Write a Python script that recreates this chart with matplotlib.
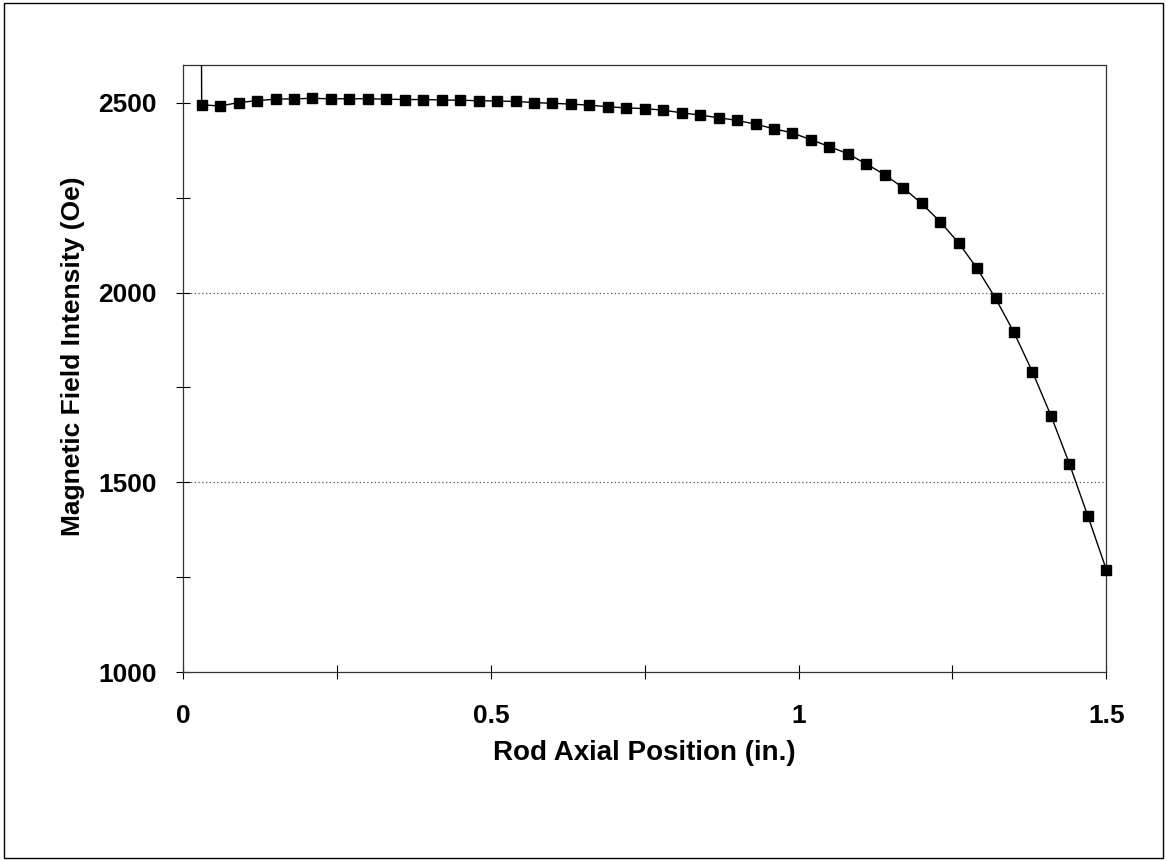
import matplotlib.pyplot as plt
from matplotlib.patches import Rectangle

plt.rcParams['font.family'] = ['Liberation Sans', 'DejaVu Sans']
plt.rcParams['font.weight'] = 'bold'

# rod axial position (in.) and field intensity (Oe); first point is off scale
pos = [0.0, 0.03, 0.06, 0.09, 0.12, 0.15, 0.18, 0.21, 0.24, 0.27, 0.30,
       0.33, 0.36, 0.39, 0.42, 0.45, 0.48, 0.51, 0.54, 0.57, 0.60,
       0.63, 0.66, 0.69, 0.72, 0.75, 0.78, 0.81, 0.84, 0.87, 0.90,
       0.93, 0.96, 0.99, 1.02, 1.05, 1.08, 1.11, 1.14, 1.17, 1.20,
       1.23, 1.26, 1.29, 1.32, 1.35, 1.38, 1.41, 1.44, 1.47, 1.50]
field = [15000, 2495, 2492, 2501, 2506, 2510, 2511, 2512, 2511, 2511, 2511,
         2510, 2509, 2509, 2508, 2507, 2506, 2505, 2504, 2501, 2499,
         2497, 2494, 2490, 2487, 2485, 2481, 2474, 2468, 2461, 2454,
         2444, 2432, 2421, 2403, 2385, 2366, 2339, 2311, 2276, 2235,
         2187, 2131, 2064, 1985, 1895, 1791, 1676, 1549, 1411, 1270]
grid_levels = [1500, 2000]

fig = plt.figure(figsize=(11.67, 8.61), dpi=100)
ax = fig.add_axes([0.157, 0.2195, 0.791, 0.705])

for g in grid_levels:
    ax.axhline(g, color='#555555', lw=0.9, ls=(0, (1, 2)), zorder=1)

ax.plot(pos, field, '-', color='black', lw=1.0, zorder=3)
# markers for the on-scale points, not clipped at the right edge
ax.plot(pos[1:], field[1:], 's', ms=7.5, mfc='black', mec='black',
        zorder=4, clip_on=False)

ax.set_xlim(0, 1.5)
ax.set_ylim(1000, 2600)
ax.set_xticks([0, 0.5, 1, 1.5])
ax.set_xticklabels(['0', '0.5', '1', '1.5'])
ax.set_xticks([0.25, 0.75, 1.25], minor=True)
ax.set_yticks([1000, 1500, 2000, 2500])
ax.set_yticks([1250, 1750, 2250], minor=True)
ax.tick_params(which='both', direction='inout', length=10, width=0.8,
               labelsize=19, pad=14)
ax.tick_params(axis='x', pad=18)
for lab in ax.get_xticklabels() + ax.get_yticklabels():
    lab.set_fontweight('bold')
for s in ax.spines.values():
    s.set_linewidth(0.9)
    s.set_color('#333333')

ax.set_xlabel('Rod Axial Position (in.)', fontsize=20, fontweight='bold', labelpad=9)
ax.set_ylabel('Magnetic Field Intensity (Oe)', fontsize=19, fontweight='bold')
ax.yaxis.set_label_coords(-0.106, 0.52)

fig.patches.append(Rectangle((0.003, 0.004), 0.994, 0.992, transform=fig.transFigure,
                             fill=False, ec='black', lw=1.0))

fig.savefig('out.png', dpi=100)
